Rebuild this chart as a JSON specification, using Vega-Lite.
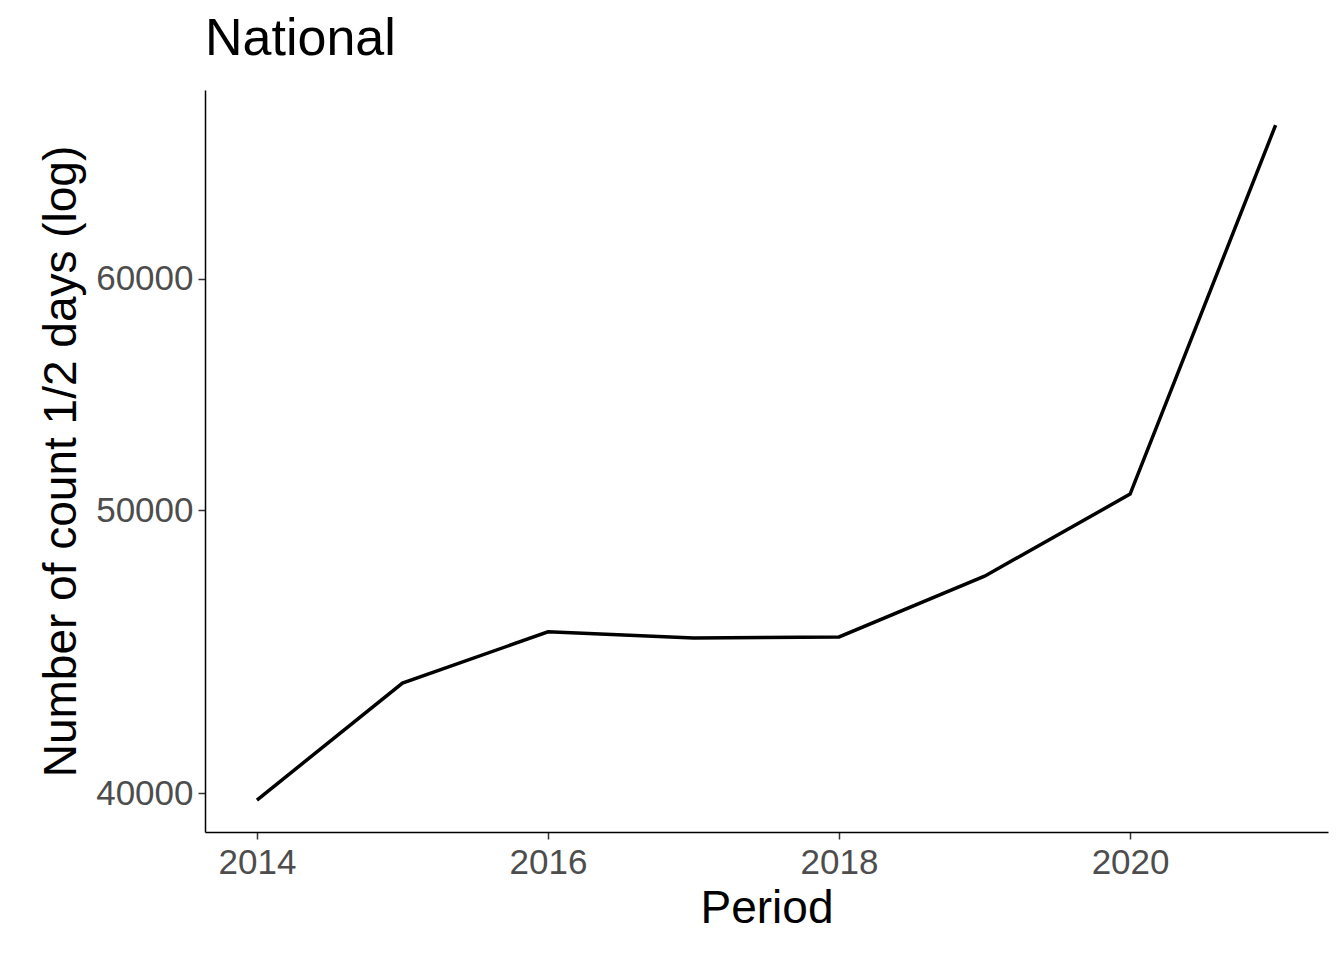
{
  "$schema": "https://vega.github.io/schema/vega-lite/v6.json",
  "width": 1123,
  "height": 742,
  "autosize": "none",
  "padding": {"left": 205, "top": 90, "right": 16, "bottom": 128},
  "background": "white",
  "title": {"text": "National", "anchor": "start", "frame": "group", "fontSize": 52, "font": "Liberation Sans", "fontWeight": "normal", "color": "black", "offset": 24},
  "config": {"view": {"stroke": null}, "font": "Liberation Sans"},
  "data": {"values": [
    {"year": 2014, "n": 39780},
    {"year": 2015, "n": 43620},
    {"year": 2016, "n": 45420},
    {"year": 2017, "n": 45200},
    {"year": 2018, "n": 45240},
    {"year": 2019, "n": 47460},
    {"year": 2020, "n": 50630},
    {"year": 2021, "n": 67730}
  ]},
  "mark": {"type": "line", "color": "black", "strokeWidth": 3.5},
  "encoding": {
    "x": {"field": "year", "type": "quantitative", "title": "Period",
      "scale": {"domain": [2013.643, 2021.36], "nice": false, "zero": false},
      "axis": {"values": [2014, 2016, 2018, 2020], "format": "d", "grid": false, "domainColor": "black", "domainWidth": 1.5, "tickColor": "#333333", "tickWidth": 1.5, "tickSize": 7, "labelFontSize": 35, "labelColor": "#4D4D4D", "labelPadding": 6, "titleFontSize": 46, "titleFontWeight": "normal", "titleColor": "black", "titlePadding": 6}},
    "y": {"field": "n", "type": "quantitative", "title": "Number of count 1/2 days (log)",
      "scale": {"type": "log", "domain": [38790, 69630], "nice": false},
      "axis": {"values": [40000, 50000, 60000], "format": "d", "grid": false, "domainColor": "black", "domainWidth": 1.5, "tickColor": "#333333", "tickWidth": 1.5, "tickSize": 7, "labelFontSize": 35, "labelColor": "#4D4D4D", "labelPadding": 5, "titleFontSize": 46, "titleFontWeight": "normal", "titleColor": "black", "titlePadding": 10}}
  }
}
